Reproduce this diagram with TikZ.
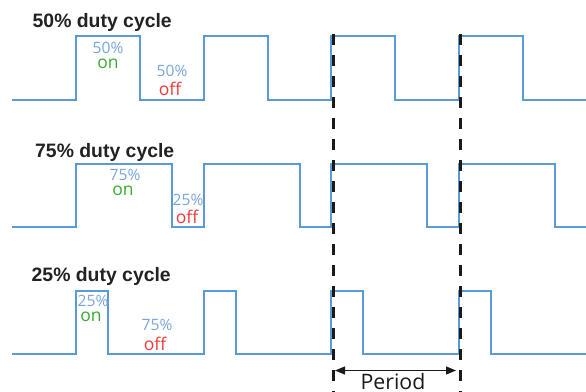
\documentclass[tikz,border=0pt]{standalone}
\usepackage{fontspec}
\setmainfont{Open Sans}
\newfontfamily\titlefont{Liberation Sans}
\usetikzlibrary{arrows.meta}
\definecolor{waveblue}{HTML}{5B9BD5}
\definecolor{pctblue}{HTML}{78A5DC}
\definecolor{ongreen}{HTML}{3AAA35}
\definecolor{offred}{HTML}{EE3B3B}
\definecolor{titlegray}{HTML}{222222}
\definecolor{markgray}{HTML}{1A1A1A}
\tikzset{
  wave/.style={draw=waveblue, line width=2pt, line join=miter},
  title/.style={anchor=base west, inner sep=0pt, text=titlegray,
    font=\titlefont\bfseries\fontsize{19.4}{20}\selectfont},
  pct/.style={anchor=base, inner sep=0pt, text=pctblue,
    font=\fontsize{15.6}{16}\selectfont},
  onlbl/.style={anchor=base, inner sep=0pt, text=ongreen,
    font=\fontsize{17.5}{18}\selectfont},
  offlbl/.style={anchor=base, inner sep=0pt, text=offred,
    font=\fontsize{17.5}{18}\selectfont},
  periodline/.style={draw=markgray, line width=3pt, dash pattern=on 11pt off 10pt},
  span/.style={draw=markgray, line width=1.2pt, {Triangle[length=10pt,width=8pt]}-{Triangle[length=10pt,width=8pt]}},
}
% draws a pulse train: #1 = high level, #2 = low level, #3 = pulse width
\newcommand{\pulsetrain}[3]{%
  \draw[wave] (12,#2) foreach \r in {76,203.6,331.2,458.8} {
      -- (\r,#2) -- (\r,#1) -- (\r+#3,#1) -- (\r+#3,#2) } -- (586,#2);}
\begin{document}
\begin{tikzpicture}[x=1pt,y=-1pt]
  \useasboundingbox (0,0) rectangle (586,391);
  \clip (0,0) rectangle (586,391);

  % 50% duty cycle
  \node[title] (t50) at (32.5,27.3) {50\% duty cycle};
  \pulsetrain{35.5}{99.5}{64}
  \node[pct] (on50p) at (108,53) {50\%};
  \node[onlbl] (on50) at (108,68) {on};
  \node[pct] (off50p) at (172,76) {50\%};
  \node[offlbl] (off50) at (170,95) {off};

  % 75% duty cycle
  \node[title] (t75) at (35,157) {75\% duty cycle};
  \pulsetrain{163.5}{226.5}{96}
  \node[pct] (on75p) at (125,180.5) {75\%};
  \node[onlbl] (on75) at (123,195) {on};
  \node[pct] (off75p) at (188,205) {25\%};
  \node[offlbl] (off75) at (187,223) {off};

  % 25% duty cycle
  \node[title] (t25) at (31.5,281.7) {25\% duty cycle};
  \pulsetrain{291}{354}{32}
  \node[pct] (on25p) at (93,306.5) {25\%};
  \node[onlbl] (on25) at (91,321.5) {on};
  \node[pct] (off25p) at (157,330.5) {75\%};
  \node[offlbl] (off25) at (155,350) {off};

  % period markers
  \coordinate (pa) at (333.3,34);
  \coordinate (pb) at (460.7,34);
  \coordinate (pa') at (333.3,400);
  \coordinate (pb') at (460.7,400);
  \draw[periodline] (pa) -- (pa');
  \draw[periodline] (pb) -- (pb');
  \coordinate (sa) at (335,370.5);
  \coordinate (sb) at (456,370.5);
  \draw[span] (sa) -- (sb);
  \node[anchor=base, inner sep=0pt, text=markgray, font=\fontsize{21.3}{22}\selectfont]
    (period) at (393,389) {Period};
\end{tikzpicture}
\end{document}
